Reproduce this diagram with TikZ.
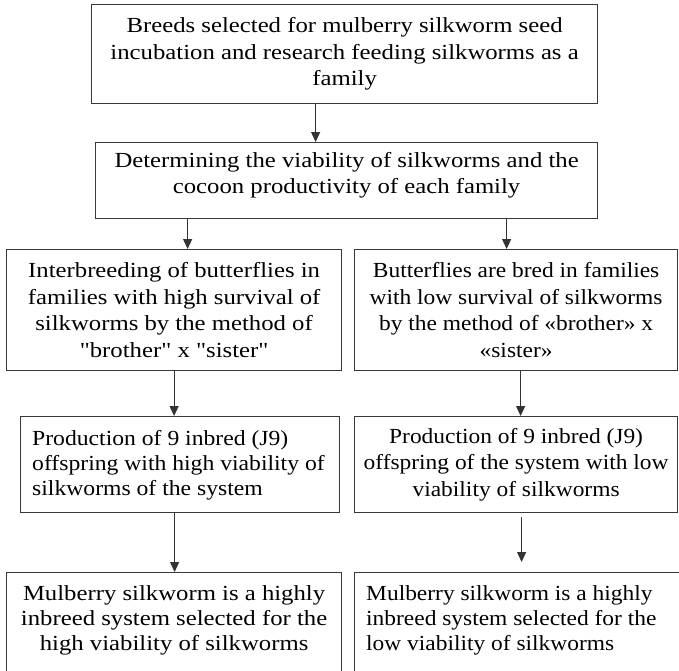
\documentclass[tikz,border=0pt]{standalone}
\usepackage{fontspec}
\setmainfont{Liberation Serif}[FakeStretch=1.15]
\newfontfamily\fwide{Liberation Serif}[FakeStretch=1.15]
\newfontfamily\fmid{Liberation Serif}[FakeStretch=1.09]
\newfontfamily\fnar{Liberation Serif}[FakeStretch=1.10]
\usetikzlibrary{arrows.meta}
\begin{document}
\begin{tikzpicture}[x=1pt,y=-1pt,
  box/.style={draw=black!78, line width=1.2pt, rectangle, inner sep=0pt, anchor=north west,
    align=center, font=\fontsize{21.5}{26.5}\selectfont},
  txt/.style={inner sep=0pt, font=\fontsize{21.5}{25}\selectfont},
  arr/.style={draw=black!80, line width=1.1pt, -{Triangle[width=9pt,length=10pt]}}]
\useasboundingbox (0,0) rectangle (679,670);
\clip (0,0) rectangle (679,670);
\fill[white] (0,0) rectangle (679,670);

\node[box, minimum width=506pt, minimum height=99pt] (b1) at (91,4)
  {Breeds selected for mulberry silkworm seed\\incubation and research feeding silkworms as a\\family};
\node[box, minimum width=502pt, minimum height=76pt] (b2) at (95,142)
  {Determining the viability of silkworms and the\\cocoon productivity of each family\rule[-15pt]{0pt}{1pt}};
\node[box, minimum width=335pt, minimum height=121pt] (b3) at (6,249)
  {\fwide Interbreeding of butterflies in\\\fwide families with high survival of\\\fwide silkworms by the method of\\\fwide "brother" x "sister"};
\node[box, minimum width=323pt, minimum height=121pt] (b4) at (354,249)
  {\fmid Butterflies are bred in families\\\fmid with low survival of silkworms\\\fmid by the method of «brother» x\\\fmid «sister»};
\node[box, minimum width=319pt, minimum height=96pt] (b5) at (20,416) {};
\node[txt, anchor=west, align=left] (t5) at ([xshift=12pt,yshift=-1pt]b5.west)
  {\fnar Production of 9 inbred (J9)\\\fnar offspring with high viability of\\\fnar silkworms of the system};
\node[box, minimum width=323pt, minimum height=96pt] (b6) at (354,416)
  {\fmid Production of 9 inbred (J9)\\\fmid offspring of the system with low\\\fmid viability of silkworms};
\node[box, minimum width=335pt, minimum height=140pt] (b7) at (6,572) {};
\node[txt, anchor=north, align=center] (t7) at ([yshift=-13pt]b7.north)
  {Mulberry silkworm is a highly\\inbreed system selected for the\\high viability of silkworms};
\node[box, minimum width=340pt, minimum height=140pt] (b8) at (354,572) {};
\node[txt, anchor=north west, align=left] (t8) at ([xshift=12pt,yshift=-13pt]b8.north west)
  {\fmid Mulberry silkworm is a highly\\\fmid inbreed system selected for the\\\fmid low viability of silkworms};

\draw[arr] ([xshift=-29pt]b1.south) -- ([xshift=-29pt]b1.south |- b2.north);
\draw[arr] ([xshift=-159pt]b2.south) -- ([xshift=-159pt]b2.south |- b3.north);
\draw[arr] ([xshift=160pt]b2.south) -- ([xshift=160pt]b2.south |- b4.north);
\draw[arr] (b3.south) -- (b3.south |- b5.north);
\draw[arr] ([xshift=4.5pt]b4.south) -- ([xshift=4.5pt]b4.south |- b6.north);
\draw[arr] ([xshift=-5.5pt]b5.south) -- ([xshift=-5.5pt]b5.south |- b7.north);
\draw[arr, shorten <=4pt, shorten >=10pt] ([xshift=5.5pt]b6.south) -- ([xshift=5.5pt]b6.south |- b8.north);
\end{tikzpicture}
\end{document}
